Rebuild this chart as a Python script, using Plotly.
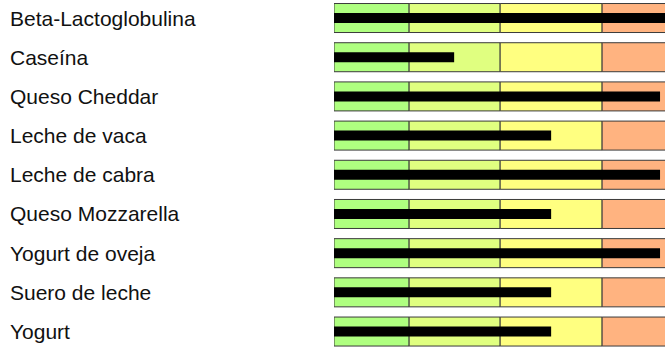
import plotly.graph_objects as go

categories = ["Beta-Lactoglobulina", "Caseína", "Queso Cheddar", "Leche de vaca",
              "Leche de cabra", "Queso Mozzarella", "Yogurt de oveja",
              "Suero de leche", "Yogurt"]
values = [101, 36.3, 98.5, 65.6, 98.5, 65.6, 98.5, 65.6, 65.6]
band_edges = [0, 22.7, 50.2, 81.0, 103]
band_colors = ["#afff80", "#e0ff80", "#ffff80", "#ffb380"]

rows = list(range(len(categories)))
fig = go.Figure()
for i, col in enumerate(band_colors):
    lo, hi = band_edges[i], band_edges[i + 1]
    fig.add_trace(go.Bar(
        y=rows, x=[hi - lo] * len(rows), base=[lo] * len(rows),
        orientation="h", width=0.74,
        marker=dict(color=col, line=dict(color="#3a3a3a", width=1)),
        hoverinfo="skip", showlegend=False))
fig.add_trace(go.Bar(
    y=rows, x=values, orientation="h", width=0.255,
    marker=dict(color="black", line=dict(width=0)),
    showlegend=False, hoverinfo="skip"))

W, H = 665, 348
left = 334
for r, name in zip(rows, categories):
    fig.add_annotation(text=name, xref="paper", yref="y", x=(8 - left) / (W - left),
                       y=r, xanchor="left", yanchor="middle", showarrow=False,
                       font=dict(family="Liberation Sans, Arial", size=21, color="#111"))

fig.update_layout(
    width=W, height=H, barmode="overlay",
    margin=dict(l=left, r=0, t=0, b=0),
    plot_bgcolor="white", paper_bgcolor="white",
    xaxis=dict(range=[0, 100], visible=False, fixedrange=True),
    yaxis=dict(range=[8.42, -0.46], visible=False, fixedrange=True),
)
fig.write_html("out.html")
